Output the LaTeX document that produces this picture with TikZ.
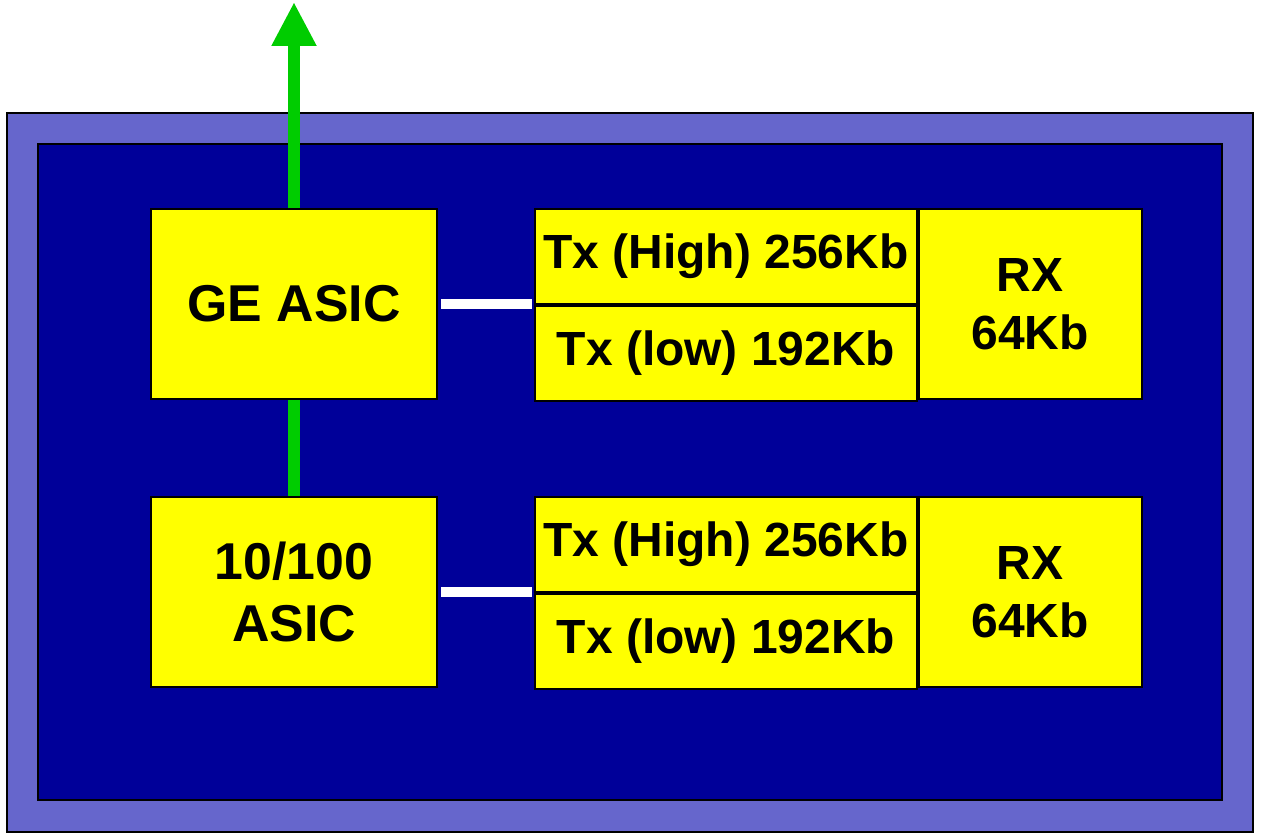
\documentclass[tikz,border=0pt]{standalone}
\usepackage{fontspec}
\setmainfont{Liberation Sans}
\usepackage{tikz}
\usetikzlibrary{arrows.meta, positioning}
\definecolor{frame}  {HTML}{6666CC}
\definecolor{board}  {HTML}{000099}
\definecolor{chip}   {HTML}{FFFF00}
\definecolor{uplink} {HTML}{00CC00}

\begin{document}
\begin{tikzpicture}[
    x=0.02cm, y=-0.02cm,
    asic/.style={draw, line width=1pt, fill=chip, inner sep=0pt,
                 minimum width=5.72cm, minimum height=3.8cm, align=center,
                 font=\fontsize{29.5}{35}\selectfont\bfseries},
    queue/.style={draw, line width=1pt, fill=chip, inner sep=0pt,
                  minimum width=7.64cm, minimum height=1.9cm,
                  font=\fontsize{27.3}{33}\selectfont\bfseries},
    rxbuf/.style={draw, line width=1pt, fill=chip, inner sep=0pt,
                  minimum width=4.46cm, minimum height=3.8cm, align=center,
                  font=\fontsize{27.3}{33}\selectfont\bfseries},
    link/.style={white, line width=5.7pt, shorten <=2pt, shorten >=1pt},
    green/.style={uplink, line width=6.8pt},
  ]
    \useasboundingbox (0,0) rectangle (1264,834);

    % Chassis and board
    \draw[line width=1pt, fill=frame] (7,113) rectangle (1253,832);
    \draw[line width=1pt, fill=board] (38,144) rectangle (1222,800);

    % Upper port group
    \node[asic] (geasic) at (294,304) {GE ASIC};
    \node[queue] (txhi1) at (726,256.5) {Tx (High) 256Kb};
    \node[queue, below=0pt of txhi1] (txlo1) {Tx (low) 192Kb};
    \node[rxbuf, anchor=north west] (rx1) at (txhi1.north east) {RX\\64Kb};

    % Lower port group
    \node[asic] (fastasic) at (294,592) {10/100\\ASIC};
    \node[queue] (txhi2) at (726,544.5) {Tx (High) 256Kb};
    \node[queue, below=0pt of txhi2] (txlo2) {Tx (low) 192Kb};
    \node[rxbuf, anchor=north west] (rx2) at (txhi2.north east) {RX\\64Kb};

    \coordinate (up) at (294,2);

    \draw[link] (geasic.east) -- (geasic.east -| txlo1.west);
    \draw[link] (fastasic.east) -- (fastasic.east -| txlo2.west);
    \draw[green] (fastasic.north) -- (geasic.south);
    \draw[green, -{Triangle[width=0.84cm, length=0.88cm]}]
      (geasic.north) -- (up);
  \end{tikzpicture}
\end{document}
